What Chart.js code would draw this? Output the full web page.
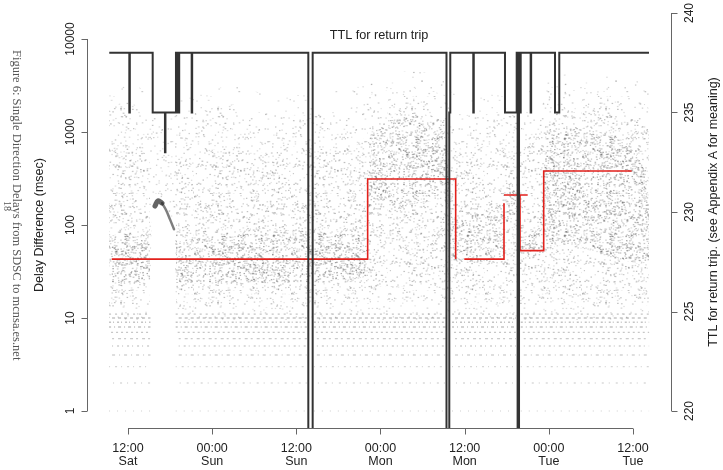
<!DOCTYPE html>
<html>
<head>
<meta charset="utf-8">
<title>Single Direction Delays</title>
<script src="https://cdn.jsdelivr.net/npm/chart.js"></script>
<style>
  html, body { margin: 0; padding: 0; background: #fff; }
  #wrap { width: 723px; height: 470px; }
</style>
</head>
<body>
<div id="wrap"><canvas id="chart" width="723" height="470"></canvas></div>
<script>
// time axis is in hours from Saturday 00:00
const tickHours = [12, 24, 36, 48, 60, 72, 84];
const tickTimes = ['12:00', '00:00', '12:00', '00:00', '12:00', '00:00', '12:00'];
const tickDays = ['Sat', 'Sun', 'Sun', 'Mon', 'Mon', 'Tue', 'Tue'];
const delayTicks = [1, 10, 100, 1000, 10000];
const ttlTicks = [220, 225, 230, 235, 240];

// TTL for the return trip, value changes at the given hour (200 = path lost)
const ttlHours = [9.33, 12.19, 12.26, 15.52, 17.27, 17.34, 18.84, 19.1, 19.3, 21.08, 21.15,
  37.71, 38.33, 57.41, 57.81, 57.95, 61.23, 61.3, 65.75, 67.42, 67.55, 67.75, 67.85, 67.99,
  69.41, 69.48, 72.88, 73.49, 86.28];
const ttlValues = [238, 235, 238, 235, 233, 235, 238, 235, 238, 235, 238,
  200, 238, 200, 235, 238, 235, 238, 235, 238, 200, 238, 235, 238,
  235, 238, 235, 238, 238];

// median delay difference (msec), null breaks the line
const medianHours = [9.68, 46.17, 58.72, 58.72, 59.95, 65.61, 65.61, 65.61, 68.99, 68.99, 67.89, 67.89, 71.27, 83.81];
const medianDelay = [43, 312, 43, null, 43, 171, null, 210, 210, null, 210, 53, 381, 381];

// envelope of the sample cloud (msec)
const cloudHours = [9.29, 10.57, 12.0, 13.71, 15.14, 15.42, 16.99, 18.56, 18.84, 20.84, 22.98, 25.12,
  27.26, 29.39, 31.53, 33.67, 35.81, 37.95, 40.09, 42.23, 44.36, 45.93, 46.79, 48.64, 50.78,
  52.92, 55.06, 57.2, 58.19, 60.05, 62.19, 64.32, 65.46, 66.46, 67.32, 68.03, 69.31, 70.74,
  71.59, 72.88, 75.02, 77.16, 79.29, 81.43, 83.57, 85.0, 86.28];
const haloHigh = [2800, 3200, 3400, 3000, 2500, 2400, 2500, 2200, 2200, 2600, 2800, 3000,
  3200, 2800, 2600, 2500, 2500, 2500, 2600, 2800, 3000, 3500, 4000, 4300, 4500,
  4500, 4300, 3800, 2600, 2500, 2500, 2600, 2600, 2500, 2500, 2600, 2800, 3000,
  3500, 4000, 4300, 4500, 4300, 4000, 3800, 3400, 2800];
const outerHigh = [1700, 2000, 2200, 1800, 1500, 1500, 1600, 1400, 1300, 1600, 1700, 1900,
  2000, 1700, 1600, 1500, 1500, 1500, 1600, 1700, 1900, 2200, 2600, 2800, 3000,
  3000, 2800, 2500, 1600, 1500, 1500, 1600, 1600, 1500, 1500, 1600, 1700, 1800,
  2300, 2600, 2800, 2900, 2800, 2600, 2400, 2200, 1800];
const outerLow = [13, 13, 13, 13, 14, 190, 200, 100, 13, 13, 13, 13,
  13, 13, 13, 13, 13, 13, 13, 13, 13, 14, 15, 15, 15,
  15, 15, 15, 14, 14, 14, 14, 14, 15, 15, 14, 14, 14,
  14, 14, 14, 13, 13, 13, 13, 13, 14];
const midHigh = [700, 800, 800, 700, 500, null, null, null, 500, 600, 650, 650,
  700, 600, 600, 650, 700, 700, 650, 650, 700, 900, 1300, 1500, 1600,
  1600, 1500, 1300, 700, 650, 700, 700, 700, 600, 600, 700, 750, 800,
  1200, 1500, 1600, 1700, 1600, 1500, 1400, 1300, 1100];
const midLow = [18, 18, 18, 18, 20, null, null, null, 18, 18, 18, 18,
  18, 18, 18, 18, 18, 18, 18, 18, 18, 19, 20, 22, 22,
  22, 22, 22, 18, 18, 18, 18, 19, 25, 25, 18, 18, 18,
  18, 18, 17, 17, 17, 17, 17, 17, 18];
const coreHigh = [75, 80, 80, 75, 65, null, null, null, 65, 70, 72, 75,
  80, 80, 78, 85, 90, 90, 85, 80, 80, 75, 900, 1300, 1400,
  1400, 1300, 1100, 120, 130, 130, 140, 150, 280, 250, 95, 90, 90,
  700, 1000, 1100, 1100, 1000, 900, 700, 500, 300];
const coreLow = [22, 22, 22, 24, 26, null, null, null, 24, 24, 23, 23,
  23, 23, 23, 24, 24, 24, 25, 26, 26, 28, 190, 180, 170,
  170, 180, 190, 40, 40, 40, 42, 45, 150, 150, 45, 46, 46,
  50, 60, 60, 55, 50, 45, 40, 38, 40];
// sparse fringe where the cloud thins out into the quantised rows
const fringeHigh = [20, 20, 20, 20, 20, null, null, null, 20, 20, 20, 20,
  20, 20, 20, 20, 20, 20, 20, 20, 20, 20, 22, 22, 22,
  22, 22, 22, 20, 20, 20, 20, 20, 22, 22, 20, 20, 20,
  20, 20, 20, 20, 20, 20, 20, 20, 20];
const fringeLow = [9.6, 9.6, 9.6, 9.6, 9.6, null, null, null, 9.6, 9.6, 9.6, 9.6,
  9.6, 9.6, 9.6, 9.6, 9.6, 9.6, 9.6, 9.6, 9.6, 9.6, 9.6, 9.6, 9.6,
  9.6, 9.6, 9.6, 9.6, 9.6, 9.6, 9.6, 9.6, 9.6, 9.6, 9.6, 9.6, 9.6,
  9.6, 9.6, 9.6, 9.6, 9.6, 9.6, 9.6, 9.6, 9.6];

// dark trail of samples on Saturday evening
const trailHours = [15.85, 16.28, 16.85, 17.42, 17.99, 18.56];
const trailDelay = [160, 182, 172, 145, 115, 90];

// delays are quantised at whole milliseconds near the floor
const quantLevels = [1, 2, 3, 4, 5, 6, 7, 8, 9, 10, 11];
const quantSpans = [[9.3, 15.2], [18.8, 37.5], [38.5, 57.3], [58.2, 67.3], [68.0, 86.3]];

function speckle(count, alpha, seed) {
  const size = 97;
  const c = document.createElement('canvas');
  c.width = size; c.height = size;
  const g = c.getContext('2d');
  let s = seed;
  const next = () => { s = (s * 16807) % 2147483647; return s / 2147483647; };
  for (let i = 0; i < count; i++) {
    const x = next() * size, y = next() * size;
    const shade = Math.round(40 + 60 * next());
    g.fillStyle = 'rgba(' + shade + ',' + shade + ',' + shade + ',' + (alpha * (0.45 + 0.55 * next())).toFixed(3) + ')';
    g.fillRect(x, y, 1.2 + next() * 0.6, 1.2);
  }
  return g.createPattern(c, 'repeat');
}

function bandDatasets(high, low, pattern, order) {
  const out = [];
  let run = [];
  const flush = () => {
    if (run.length > 1) {
      const base = { type: 'line', yAxisID: 'y', pointRadius: 0, borderWidth: 0,
        borderColor: 'rgba(0,0,0,0)', tension: 0, order: order };
      out.push(Object.assign({}, base, { data: run.map(i => ({ x: cloudHours[i], y: high[i] })),
        fill: '+1', backgroundColor: pattern }));
      out.push(Object.assign({}, base, { data: run.map(i => ({ x: cloudHours[i], y: low[i] })),
        fill: false }));
    }
    run = [];
  };
  cloudHours.forEach((h, i) => {
    if (high[i] == null || low[i] == null) flush(); else run.push(i);
  });
  flush();
  return out;
}

const rowDash = [[1, 7], [2, 5, 1, 6], [2, 4, 1, 5], [3, 4, 1, 4], [2, 3, 1, 4], [3, 3, 2, 4],
  [2, 3], [3, 3, 1, 3], [2, 2, 1, 3], [3, 3], [2, 4]];
const rowDatasets = quantLevels.map((level, k) => {
  const data = [];
  quantSpans.forEach(([a, b]) => {
    data.push({ x: a, y: level }, { x: b, y: level }, { x: b, y: null });
  });
  return {
    type: 'line', yAxisID: 'y', data: data, pointRadius: 0, fill: false,
    borderColor: 'rgba(70,70,70,' + (0.16 + Math.min(level, 8) * 0.02).toFixed(3) + ')',
    borderWidth: 1.3, borderDash: rowDash[k], borderDashOffset: k * 3,
    spanGaps: false, order: 3
  };
});

const datasets = [
  {
    type: 'line', yAxisID: 'y2', stepped: true, order: 0,
    data: ttlHours.map((h, i) => ({ x: h, y: ttlValues[i] })),
    borderColor: '#333', borderWidth: 2, pointRadius: 0, fill: false
  },
  {
    type: 'line', yAxisID: 'y', stepped: true, order: 1, spanGaps: false,
    data: medianHours.map((h, i) => ({ x: h, y: medianDelay[i] })),
    borderColor: '#e2211c', borderWidth: 1.6, pointRadius: 0, fill: false
  },
  {
    type: 'line', yAxisID: 'y', order: 2, tension: 0.4,
    data: trailHours.slice(0, 3).map((h, i) => ({ x: h, y: trailDelay[i] })),
    borderColor: 'rgba(40,40,40,0.72)', borderWidth: 5, borderCapStyle: 'round', pointRadius: 0, fill: false
  },
  {
    type: 'line', yAxisID: 'y', order: 2, tension: 0.4,
    data: trailHours.slice(2).map((h, i) => ({ x: h, y: trailDelay[i + 2] })),
    borderColor: 'rgba(40,40,40,0.6)', borderWidth: 2.5, borderCapStyle: 'round', pointRadius: 0, fill: false
  },
  ...rowDatasets,
  ...bandDatasets(coreHigh, coreLow, speckle(850, 0.45, 7), 4),
  ...bandDatasets(midHigh, midLow, speckle(420, 0.36, 11), 5),
  ...bandDatasets(outerHigh, outerLow, speckle(330, 0.32, 23), 6),
  ...bandDatasets(haloHigh, outerHigh, speckle(90, 0.3, 41), 6),
  ...bandDatasets(fringeHigh, fringeLow, speckle(160, 0.3, 31), 6)
];

const SANS = "'Liberation Sans', Arial, sans-serif";

// R-style axes, labels and captions drawn around the plot region
const frame = {
  id: 'frame',
  afterDraw(chart) {
    const ctx = chart.ctx;
    const area = chart.chartArea;
    const sx = chart.scales.x, sy = chart.scales.y, s2 = chart.scales.y2;
    ctx.save();
    ctx.strokeStyle = '#666';
    ctx.lineWidth = 1;
    ctx.fillStyle = '#222';
    ctx.font = '12px ' + SANS;
    ctx.textAlign = 'center';
    ctx.textBaseline = 'middle';

    const rot = (text, x, y, angle) => {
      ctx.save(); ctx.translate(x, y); ctx.rotate(angle); ctx.fillText(text, 0, 0); ctx.restore();
    };

    // left delay axis
    const L = Math.round(area.left) + 0.5;
    ctx.beginPath();
    ctx.moveTo(L, sy.getPixelForValue(delayTicks[0]));
    ctx.lineTo(L, sy.getPixelForValue(delayTicks[delayTicks.length - 1]));
    delayTicks.forEach(v => {
      const y = Math.round(sy.getPixelForValue(v)) + 0.5;
      ctx.moveTo(L, y); ctx.lineTo(L - 6, y);
    });
    ctx.stroke();
    delayTicks.forEach(v => rot(String(v), L - 17, sy.getPixelForValue(v), -Math.PI / 2));

    // right TTL axis
    const R = Math.round(area.right) + 0.5;
    ctx.beginPath();
    ctx.moveTo(R, s2.getPixelForValue(ttlTicks[0]));
    ctx.lineTo(R, s2.getPixelForValue(ttlTicks[ttlTicks.length - 1]));
    ttlTicks.forEach(v => {
      const y = Math.round(s2.getPixelForValue(v)) + 0.5;
      ctx.moveTo(R, y); ctx.lineTo(R + 6, y);
    });
    ctx.stroke();
    ttlTicks.forEach(v => rot(String(v), R + 18, s2.getPixelForValue(v), -Math.PI / 2));

    // time axis
    const B = Math.round(area.bottom) + 0.5;
    ctx.beginPath();
    ctx.moveTo(sx.getPixelForValue(tickHours[0]), B);
    ctx.lineTo(sx.getPixelForValue(tickHours[tickHours.length - 1]), B);
    tickHours.forEach(h => {
      const x = Math.round(sx.getPixelForValue(h)) + 0.5;
      ctx.moveTo(x, B); ctx.lineTo(x, B + 6);
    });
    ctx.stroke();
    ctx.font = '12.5px ' + SANS;
    tickHours.forEach((h, i) => {
      const x = sx.getPixelForValue(h);
      ctx.fillText(tickTimes[i], x, B + 20);
      ctx.fillText(tickDays[i], x, B + 33);
    });

    // titles
    rot('Delay Difference (msec)', 40, (sy.getPixelForValue(1) + sy.getPixelForValue(10000)) / 2, -Math.PI / 2);
    rot('TTL for return trip. (see Appendix A for meaning)', 714,
      (s2.getPixelForValue(220) + s2.getPixelForValue(240)) / 2, -Math.PI / 2);
    ctx.font = '12.7px ' + SANS;
    ctx.fillText('TTL for return trip', (area.left + area.right) / 2, 35);

    // figure caption running down the page margin
    ctx.fillStyle = '#555';
    ctx.font = "12.5px 'Liberation Serif', 'Times New Roman', serif";
    ctx.textAlign = 'left';
    rot('Figure 6: Single Direction Delays from SDSC to mcnsa.es.net', 16, 50, Math.PI / 2);
    ctx.font = "10px 'Liberation Serif', serif";
    rot('18', 7, 201, Math.PI / 2);
    ctx.restore();
  }
};

new Chart(document.getElementById('chart'), {
  type: 'line',
  data: { datasets: datasets },
  options: {
    responsive: false,
    animation: false,
    devicePixelRatio: 1,
    layout: { padding: { left: 87, right: 52, top: 0, bottom: 42 } },
    plugins: { legend: { display: false }, tooltip: { enabled: false } },
    scales: {
      x: { type: 'linear', min: 6.155, max: 89.42, display: false },
      y: { type: 'logarithmic', min: 0.6566, max: 26260, display: false },
      y2: { type: 'linear', min: 219.146, max: 240.653, display: false }
    }
  },
  plugins: [frame]
});
</script>
</body>
</html>
